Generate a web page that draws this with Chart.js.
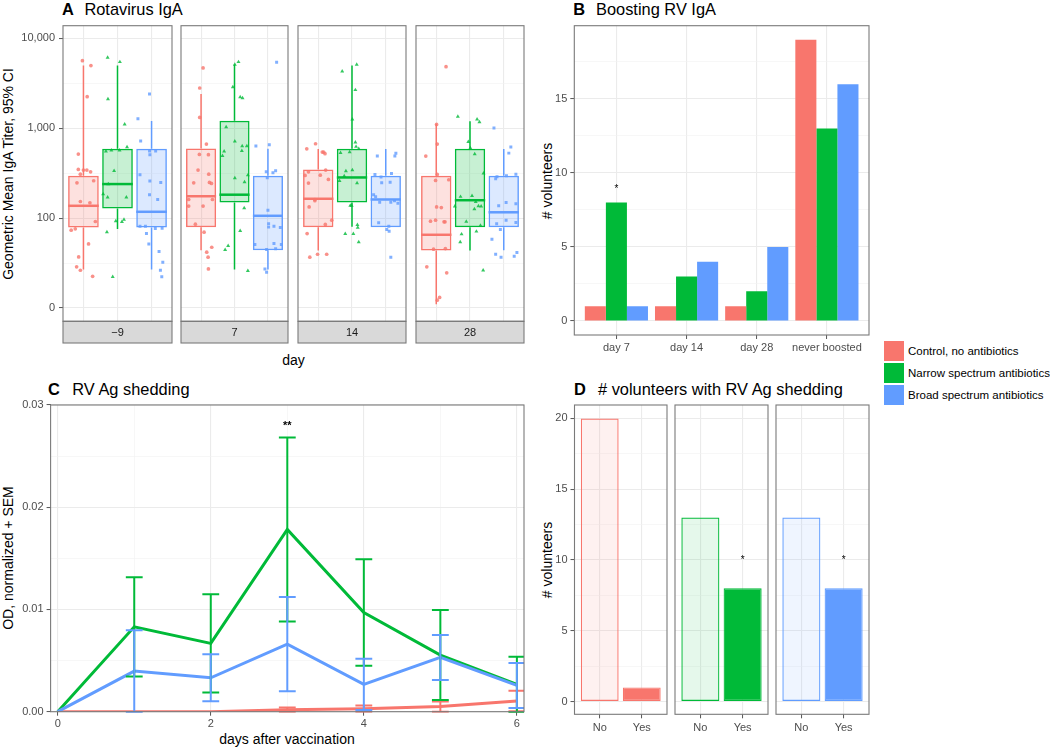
<!DOCTYPE html>
<html><head><meta charset="utf-8">
<script src="https://cdn.jsdelivr.net/npm/chart.js@4.4.0/dist/chart.umd.min.js"></script>
<style>
html,body{margin:0;padding:0;background:#fff;}
body{width:1050px;height:748px;position:relative;overflow:hidden;font-family:"Liberation Sans",Arial,Helvetica,sans-serif;}
canvas{position:absolute;}
.t{position:absolute;white-space:nowrap;line-height:1;color:#000;}
.ttl{font-size:16.4px;}
.ttl b{font-weight:bold;}
.axt{font-size:14px;transform:translate(-50%,-50%);}
.axr{font-size:14px;transform:translate(-50%,-50%) rotate(-90deg);}
.lg{font-size:11.5px;transform:translateY(-50%);}
.key{position:absolute;width:20px;height:20px;}
</style></head><body>

<div class="t ttl" style="left:62px;top:0.5px"><b>A</b></div>
<div class="t ttl" style="left:84.4px;top:0.5px">Rotavirus IgA</div>
<div class="t ttl" style="left:573.3px;top:0.8px"><b>B</b></div>
<div class="t ttl" style="left:596px;top:0.8px">Boosting RV IgA</div>
<div class="t ttl" style="left:48px;top:380.6px"><b>C</b></div>
<div class="t ttl" style="left:72.3px;top:380.6px">RV Ag shedding</div>
<div class="t ttl" style="left:574px;top:380.6px"><b>D</b></div>
<div class="t ttl" style="left:598px;top:380.6px"># volunteers with RV Ag shedding</div>

<div class="t axr" style="left:8px;top:174px">Geometric Mean IgA Titer, 95% CI</div>
<div class="t axt" style="left:293.5px;top:360px">day</div>
<div class="t axr" style="left:547px;top:180.5px"># volunteers</div>
<div class="t axr" style="left:8px;top:558.3px">OD, normalized + SEM</div>
<div class="t axt" style="left:287px;top:739.3px">days after vaccination</div>
<div class="t axr" style="left:547px;top:560px"># volunteers</div>

<div id="legend"></div>

<script>
// ---------------- DATA ----------------
const groups = ['Control, no antibiotics', 'Narrow spectrum antibiotics', 'Broad spectrum antibiotics'];
const groupColors = ['#F8766D', '#00BA38', '#619CFF'];

// Panel A: Rotavirus IgA titers by day (facets) and group
const igaDays = ['\u22129', '7', '14', '28'];
const igaTickValues = [10, 100, 1000, 10000];
const igaTickLabels = ['0', '100', '1,000', '10,000'];
const igaMinorBreaks = [31.62, 316.2, 3162];

const igaQ1 = [[78.5, 128, 78.5], [79.3, 149, 44], [79.3, 149, 79.3], [43.6, 79.3, 79.3]];
const igaMedian = [[137, 239, 117.5], [175, 182, 106], [164, 283, 161], [65.2, 158, 116]];
const igaQ3 = [[296, 590, 590], [596, 1211, 296], [348, 590, 296], [296, 590, 296]];
const igaWhiskerLow = [[26.8, 75.4, 26.8], [44, 26.8, 26.8], [43.6, 80, 79.3], [11, 43.6, 44]];
const igaWhiskerHigh = [[4966, 4966, 1200], [2399, 5093, 590], [586, 4966, 586], [1122, 1191, 586]];

const igaTiterDm9 = [
  [5640, 4966, 2239, 515, 348, 308, 342, 342, 327, 247, 260, 153, 148, 91.6, 73.4, 75.9, 51.6, 37, 28.7, 26.3, 22.5],
  [6095, 5450, 2109, 1102, 617, 552, 566, 566, 336, 239, 185, 170, 170, 92.4, 90.8, 96.4, 69.7, 22.2],
  [2399, 1274, 719, 556, 556, 507, 303, 258, 249, 182, 161, 81.3, 81.3, 76.5, 77.1, 67.3, 51.6, 42.5, 32.3, 26.3, 22.2]
];
const igaJitterDm9 = [
  [-0.03, 0.22, 0.11, -0.15, -0.15, -0.09, 0, 0.10, 0.21, -0.19, 0.30, -0.09, 0.19, 0.35, -0.36, -0.24, 0.15, -0.14, -0.20, -0.09, 0.27],
  [-0.29, 0.07, -0.28, 0.21, 0.28, -0.34, -0.18, 0.06, -0.10, -0.27, -0.42, -0.29, 0.26, -0.05, 0.13, 0.19, -0.31, -0.14],
  [-0.06, -0.40, -0.32, -0.06, 0.12, -0.05, -0.34, -0.05, 0.27, -0.06, 0.18, -0.34, -0.18, 0.11, 0.31, -0.15, -0.08, 0.22, 0.33, 0.26, 0.30]
];
const igaTiterD7 = [
  [4677, 2800, 1318, 665, 510, 507, 342, 308, 247, 249, 243, 161, 161, 136, 136, 85.5, 69.7, 47.4, 41.8, 36.7, 27.2],
  [5450, 5093, 2871, 2223, 2166, 1030, 713, 632, 632, 561, 552, 493, 300, 279, 251, 129, 72.1, 49.1, 44.4, 25.9],
  [5408, 632, 655, 327, 319, 336, 281, 122, 86.3, 81.3, 79.3, 78.5, 50.8, 52.1, 50.8, 44.7, 45.5, 27.2, 25]
];
const igaJitterD7 = [
  [0.06, -0.04, -0.04, 0.16, -0.05, 0.22, -0.09, 0.23, -0.22, 0.25, 0.31, -0.37, 0.34, 0.06, -0.37, -0.17, 0.09, 0.32, 0.17, 0.21, 0.22],
  [0.12, 0.01, -0.05, 0.17, 0.24, -0.25, 0.01, 0.23, 0.37, 0.22, -0.31, -0.36, 0.40, 0.01, 0.30, 0.29, 0.17, -0.19, -0.28, 0.40],
  [0.26, -0.36, 0.04, -0.05, 0.15, 0.23, -0.02, 0, 0.02, 0.18, 0.02, 0.37, -0.39, 0.18, 0.40, -0.04, 0.23, -0.09, -0.04]
];
const igaTiterD14 = [
  [590, 671, 542, 520, 542, 327, 298, 300, 342, 269, 245, 161, 156, 133, 94.8, 84.9, 67.3, 39.6, 39.6, 36.7],
  [5093, 4295, 2661, 1253, 695, 622, 590, 533, 542, 334, 342, 293, 260, 245, 138, 138, 84.2, 78.5, 66.8, 66.8, 54],
  [490, 490, 525, 306, 286, 247, 251, 314, 182, 173, 150, 150, 156, 146, 88.5, 81.3, 74.6, 71.5, 36.7]
];
const igaJitterD14 = [
  [-0.34, -0.08, 0.12, 0.20, 0.16, -0.29, -0.39, 0.06, 0.22, 0.30, -0.29, -0.10, -0.10, -0.27, 0.40, 0.21, -0.33, 0.25, -0.02, -0.25],
  [0.14, -0.29, 0.10, 0.01, 0.10, 0.12, 0.20, -0.34, -0.07, -0.18, 0.01, -0.23, -0.37, 0.15, -0.05, -0.01, 0.16, 0.17, -0.20, 0.04, 0.20],
  [-0.25, 0.27, 0.30, -0.32, -0.14, -0.12, 0.13, 0.17, -0.36, -0.30, -0.18, 0.15, 0.26, 0.36, -0.21, 0.09, 0.03, 0.10, 0.15]
];
const igaTiterD28 = [
  [4830, 1102, 665, 490, 306, 262, 267, 133, 131, 92.4, 94.8, 90.8, 90.8, 45.1, 45.8, 28.7, 24.6, 13.1, 12.2],
  [1343, 1253, 1170, 706, 601, 515, 314, 173, 177, 152, 136, 135, 126, 135, 91.6, 82.6, 66.2, 71, 54, 26.3],
  [1002, 617, 528, 274, 288, 296, 137, 149, 86.3, 94.8, 74.6, 58.2, 39.6, 36.7, 308, 144, 89.3, 41.4, 37.7]
];
const igaJitterD28 = [
  [0.29, 0.01, 0.03, -0.31, 0.03, -0.02, 0.37, 0.01, 0.15, -0.17, -0.02, 0.23, 0.26, -0.08, 0.27, -0.28, 0.31, 0.10, 0.03],
  [-0.36, 0.21, 0.28, -0.05, 0.01, 0.14, 0.40, -0.28, 0.06, 0.17, 0.25, 0.33, 0.13, -0.45, -0.11, 0.31, -0.25, 0.19, -0.29, 0.39],
  [-0.29, 0.21, 0.15, -0.24, -0.20, 0.08, -0.15, 0.07, -0.21, 0.07, -0.10, -0.35, -0.24, -0.08, 0.36, 0.36, 0.36, 0.39, 0.31]
];
const igaTiters = [igaTiterDm9, igaTiterD7, igaTiterD14, igaTiterD28];
const igaJitters = [igaJitterDm9, igaJitterD7, igaJitterD14, igaJitterD28];

// Panel B: boosting
const boostCategories = ['day 7', 'day 14', 'day 28', 'never boosted'];
const boostControl = [1, 1, 1, 19];
const boostNarrow = [8, 3, 2, 13];
const boostBroad = [1, 4, 5, 16];
const boostTicks = [0, 5, 10, 15];
const boostMinor = [2.5, 7.5, 12.5, 17.5];
const boostStars = [{x: 1, y: 9.08, text: '*'}];

// Panel C: shedding
const shedDays = [0, 1, 2, 3, 4, 5, 6];
const shedControl = [0, 0, 0, 0.0002, 0.0003, 0.0005, 0.00104];
const shedControlSem = [0, 0, 0, 0.0002, 0.0003, 0.0005, 0.001];
const shedNarrow = [0, 0.0083, 0.00668, 0.01782, 0.0097, 0.00554, 0.00267];
const shedNarrowSem = [0, 0.00485, 0.0048, 0.009, 0.0052, 0.0044, 0.0027];
const shedBroad = [0, 0.00397, 0.00332, 0.00661, 0.00267, 0.00531, 0.00257];
const shedBroadSem = [0, 0.004, 0.0023, 0.0046, 0.0025, 0.0022, 0.0022];
const shedXTicks = [0, 2, 4, 6];
const shedXMinor = [1, 3, 5];
const shedYTicks = [0, 0.01, 0.02, 0.03];
const shedYTickLabels = ['0.00', '0.01', '0.02', '0.03'];
const shedYMinor = [0.005, 0.015, 0.025];
const shedStars = [{x: 3, y: 0.0283, text: '**'}];

// Panel D: volunteers with shedding
const answers = ['No', 'Yes'];
const sheddersControl = [20, 1];
const sheddersNarrow = [13, 8];
const sheddersBroad = [13, 8];
const sheddersTicks = [0, 5, 10, 15, 20];
const sheddersMinor = [2.5, 7.5, 12.5, 17.5];
const sheddersStars = [[], [{x: 2, y: 10.18, text: '*'}], [{x: 2, y: 10.18, text: '*'}]];

// ---------------- RENDERING ----------------
const F = '"Liberation Sans", Arial, Helvetica, sans-serif';
Chart.defaults.font.family = F;
Chart.defaults.font.size = 11;
Chart.defaults.color = '#4d4d4d';
Chart.defaults.animation = false;
Chart.defaults.events = [];
Chart.defaults.plugins.legend.display = false;
Chart.defaults.plugins.tooltip.enabled = false;

const BORDER = '#7a7a7a', GRID = '#ebebeb', GRID_MINOR = '#f1f1f1', TICKMARK = '#555';

function rgba(hex, a) {
  const n = parseInt(hex.slice(1), 16);
  return `rgba(${n >> 16},${(n >> 8) & 255},${n & 255},${a})`;
}

function makeCanvas(left, top, w, h) {
  const c = document.createElement('canvas');
  c.width = Math.round(w); c.height = Math.round(h);
  c.style.left = left + 'px'; c.style.top = top + 'px';
  c.style.width = Math.round(w) + 'px'; c.style.height = Math.round(h) + 'px';
  document.body.appendChild(c);
  return c;
}

// axis helper
function axis(o) {
  const majors = o.majors, all = o.majors.concat(o.minors || []).sort((a, b) => a - b);
  const isMajor = c => c && c.tick && majors.indexOf(c.tick.value) >= 0;
  return {
    type: o.type || 'linear', min: o.min, max: o.max, bounds: 'data', offset: false,
    afterBuildTicks: s => { s.ticks = all.map(v => ({value: v})); },
    afterFit: s => { if (s.isHorizontal()) s.height = o.size; else s.width = o.size; },
    ticks: {
      display: !!o.show, autoSkip: false, maxRotation: 0, minRotation: 0, padding: o.pad || 3,
      color: '#4d4d4d', font: {size: 11},
      callback: v => { const i = majors.indexOf(v); return i >= 0 ? (o.labels ? o.labels[i] : String(v)) : ''; }
    },
    grid: {
      offset: false, drawTicks: !!o.show, tickLength: 4, tickWidth: 1,
      color: c => isMajor(c) ? GRID : GRID_MINOR,
      lineWidth: c => isMajor(c) ? 1.1 : 0.6,
      tickColor: c => isMajor(c) ? TICKMARK : 'rgba(0,0,0,0)'
    },
    border: {display: false}
  };
}

function framePlugin(strip, stripH) {
  return {
    id: 'frame',
    afterDraw(chart) {
      const {ctx, chartArea: a} = chart;
      ctx.save();
      ctx.strokeStyle = BORDER; ctx.lineWidth = 1.1;
      if (strip != null) {
        ctx.fillStyle = '#d9d9d9';
        ctx.fillRect(a.left, a.bottom, a.right - a.left, stripH);
        ctx.strokeRect(a.left, a.bottom, a.right - a.left, stripH);
        ctx.fillStyle = '#1a1a1a'; ctx.font = '11px ' + F;
        ctx.textAlign = 'center'; ctx.textBaseline = 'middle';
        ctx.fillText(strip, (a.left + a.right) / 2, a.bottom + stripH / 2 + 0.5);
      }
      ctx.strokeRect(a.left, a.top, a.right - a.left, a.bottom - a.top);
      ctx.restore();
    }
  };
}

function notesPlugin(items, fs, bold) {
  return {
    id: 'notes',
    afterDatasetsDraw(chart) {
      const {ctx, scales: {x, y}} = chart;
      ctx.save(); ctx.fillStyle = '#000';
      ctx.font = (bold ? 'bold ' : '') + fs + 'px ' + F;
      ctx.textAlign = 'center'; ctx.textBaseline = 'alphabetic';
      items.forEach(it => ctx.fillText(it.text, x.getPixelForValue(it.x), y.getPixelForValue(it.y) + fs * 0.57));
      ctx.restore();
    }
  };
}

const boxPlugin = {
  id: 'boxExtras',
  afterDatasetDraw(chart, args) {
    const ds = chart.data.datasets[args.index];
    if (!ds.boxMedian) return;
    const {ctx} = chart, ys = chart.scales.y;
    ctx.save();
    args.meta.data.forEach((bar, i) => {
      ctx.strokeStyle = ds.borderColor[i];
      ctx.lineWidth = 1.5;
      ctx.beginPath();
      ctx.moveTo(bar.x, ys.getPixelForValue(ds.boxHigh[i]));
      ctx.lineTo(bar.x, ys.getPixelForValue(ds.data[i].y[1]));
      ctx.moveTo(bar.x, ys.getPixelForValue(ds.data[i].y[0]));
      ctx.lineTo(bar.x, ys.getPixelForValue(ds.boxLow[i]));
      ctx.stroke();
      ctx.lineWidth = 2.5;
      const ym = ys.getPixelForValue(ds.boxMedian[i]);
      ctx.beginPath();
      ctx.moveTo(bar.x - bar.width / 2, ym);
      ctx.lineTo(bar.x + bar.width / 2, ym);
      ctx.stroke();
    });
    ctx.restore();
  }
};

// ---------- Panel A ----------
const A = {lefts: [63, 180.4, 297.2, 414.6], w: 109.5, top: 25.7, bottom: 321, strip: 21.7};
const shapes = ['circle', 'triangle', 'rect'];
const shapeRadius = [1.85, 2.3, 2.1];
igaDays.forEach((day, f) => {
  const first = f === 0;
  const L = A.lefts[f], R = L + A.w;
  const cl = first ? 0 : L - 3, ct = 14;
  const cw = R + 3 - cl, ch = A.bottom + A.strip + 3 - ct;
  const cv = makeCanvas(cl, ct, cw, ch);
  const datasets = groups.map((g, gi) => ({
    type: 'line', showLine: false, order: 0,
    data: igaTiters[f][gi].map((v, k) => ({x: gi + 1 + igaJitters[f][gi][k], y: v})),
    pointStyle: shapes[gi], pointRadius: shapeRadius[gi], pointBorderWidth: 0,
    pointBackgroundColor: rgba(groupColors[gi], 0.8), pointBorderColor: 'rgba(0,0,0,0)'
  }));
  datasets.push({
    type: 'bar', order: 1,
    data: groups.map((g, gi) => ({x: gi + 1, y: [igaQ1[f][gi], igaQ3[f][gi]]})),
    backgroundColor: groupColors.map(c => rgba(c, 0.22)),
    borderColor: groupColors.slice(), borderWidth: 1.5, borderSkipped: false,
    categoryPercentage: 0.9, barPercentage: 1,
    boxMedian: igaMedian[f], boxLow: igaWhiskerLow[f], boxHigh: igaWhiskerHigh[f]
  });
  new Chart(cv, {
    type: 'bar',
    data: {datasets},
    options: {
      responsive: false, maintainAspectRatio: false,
      layout: {padding: {left: 0, top: A.top - ct, right: cl + cw - R, bottom: 0}},
      scales: {
        x: axis({min: 0.4, max: 3.6, majors: [1, 2, 3], size: ct + ch - A.bottom, show: false}),
        y: axis({type: 'logarithmic', min: 7.11, max: 13800, majors: igaTickValues, minors: igaMinorBreaks,
                 labels: igaTickLabels, size: L - cl, show: first, pad: 4})
      }
    },
    plugins: [boxPlugin, framePlugin(day, A.strip)]
  });
});

// ---------- Panel B ----------
(function () {
  const area = {l: 574.3, t: 25.7, r: 869, b: 335};
  const cl = 530, ct = 12, cw = 355, ch = 360;
  const cv = makeCanvas(cl, ct, cw, ch);
  const vals = [boostControl, boostNarrow, boostBroad];
  new Chart(cv, {
    type: 'bar',
    data: {datasets: groups.map((g, gi) => ({
      label: g, data: vals[gi].map((v, i) => ({x: i + 1, y: v})),
      backgroundColor: groupColors[gi], borderWidth: 0,
      categoryPercentage: 0.9, barPercentage: 1
    }))},
    options: {
      responsive: false, maintainAspectRatio: false,
      layout: {padding: {left: 0, top: area.t - ct, right: cl + cw - area.r, bottom: 0}},
      scales: {
        x: axis({min: 0.4, max: 4.6, majors: [1, 2, 3, 4], labels: boostCategories, size: ct + ch - area.b, show: true, pad: 2}),
        y: axis({min: -0.95, max: 19.95, majors: boostTicks, minors: boostMinor, size: area.l - cl, show: true, pad: 3})
      }
    },
    plugins: [framePlugin(null), notesPlugin(boostStars, 10, false)]
  });
})();

// ---------- Panel C ----------
(function () {
  const area = {l: 50.6, t: 405, r: 524, b: 711.7};
  const cl = 0, ct = 392, cw = 536, ch = 342;
  const cv = makeCanvas(cl, ct, cw, ch);
  const means = [shedControl, shedNarrow, shedBroad];
  const sems = [shedControlSem, shedNarrowSem, shedBroadSem];
  const errPlugin = {
    id: 'errbars',
    afterDatasetsDraw(chart) {
      const {ctx, chartArea: a, scales: {x, y}} = chart;
      ctx.save();
      ctx.beginPath(); ctx.rect(a.left, a.top - 1, a.right - a.left, a.bottom - a.top + 2); ctx.clip();
      ctx.lineWidth = 2;
      means.forEach((m, gi) => {
        ctx.strokeStyle = groupColors[gi];
        m.forEach((v, i) => {
          const e = sems[gi][i]; if (!e) return;
          const d = shedDays[i];
          const px = x.getPixelForValue(d), x0 = x.getPixelForValue(d - 0.11), x1 = x.getPixelForValue(d + 0.11);
          const yt = y.getPixelForValue(v + e), yb = y.getPixelForValue(v - e);
          ctx.beginPath();
          ctx.moveTo(px, yt); ctx.lineTo(px, yb);
          ctx.moveTo(x0, yt); ctx.lineTo(x1, yt);
          ctx.moveTo(x0, yb); ctx.lineTo(x1, yb);
          ctx.stroke();
        });
      });
      ctx.restore();
    }
  };
  new Chart(cv, {
    type: 'line',
    data: {datasets: groups.map((g, gi) => ({
      label: g, order: 3 - gi,
      data: shedDays.map((d, i) => ({x: d, y: means[gi][i]})),
      borderColor: groupColors[gi], borderWidth: 3, pointRadius: 0, fill: false, tension: 0
    }))},
    options: {
      responsive: false, maintainAspectRatio: false,
      layout: {padding: {left: 0, top: area.t - ct, right: cl + cw - area.r, bottom: 0}},
      scales: {
        x: axis({min: -0.093, max: 6.093, majors: shedXTicks, minors: shedXMinor, size: ct + ch - area.b, show: true, pad: 2}),
        y: axis({min: 0, max: 0.03, majors: shedYTicks, minors: shedYMinor, labels: shedYTickLabels, size: area.l - cl, show: true, pad: 3})
      }
    },
    plugins: [errPlugin, framePlugin(null), notesPlugin(shedStars, 11, true)]
  });
})();

// ---------- Panel D ----------
(function () {
  const lefts = [574.5, 675.1, 775.7], w = 92.6, top = 405, bottom = 714.3;
  const counts = [sheddersControl, sheddersNarrow, sheddersBroad];
  counts.forEach((cnt, f) => {
    const first = f === 0;
    const L = lefts[f], R = L + w;
    const cl = first ? 530 : L - 6, ct = 392;
    const cw = R + 6 - cl, ch = 742 - ct;
    const cv = makeCanvas(cl, ct, cw, ch);
    const col = groupColors[f];
    new Chart(cv, {
      type: 'bar',
      data: {datasets: [{
        data: cnt.map((v, i) => ({x: i + 1, y: v})),
        backgroundColor: [rgba(col, 0.1), col], borderColor: [col, col],
        borderWidth: 1.2, borderSkipped: false, categoryPercentage: 0.9, barPercentage: 1
      }]},
      options: {
        responsive: false, maintainAspectRatio: false,
        layout: {padding: {left: 0, top: top - ct, right: cl + cw - R, bottom: 0}},
        scales: {
          x: axis({min: 0.4, max: 2.6, majors: [1, 2], labels: answers, size: ct + ch - bottom, show: true, pad: 3}),
          y: axis({min: -0.9, max: 20.95, majors: sheddersTicks, minors: sheddersMinor, size: L - cl, show: first, pad: 3})
        }
      },
      plugins: [framePlugin(null), notesPlugin(sheddersStars[f], 10, false)]
    });
  });
})();

// ---------- Legend ----------
(function () {
  const lg = document.getElementById('legend');
  const tops = [341, 363, 385];
  groups.forEach((g, gi) => {
    const k = document.createElement('div');
    k.className = 'key';
    k.style.left = '884px'; k.style.top = tops[gi] + 'px'; k.style.background = groupColors[gi];
    lg.appendChild(k);
    const t = document.createElement('div');
    t.className = 't lg';
    t.style.left = '908px'; t.style.top = (tops[gi] + 10.5) + 'px';
    t.textContent = g;
    lg.appendChild(t);
  });
})();
</script>
</body></html>
